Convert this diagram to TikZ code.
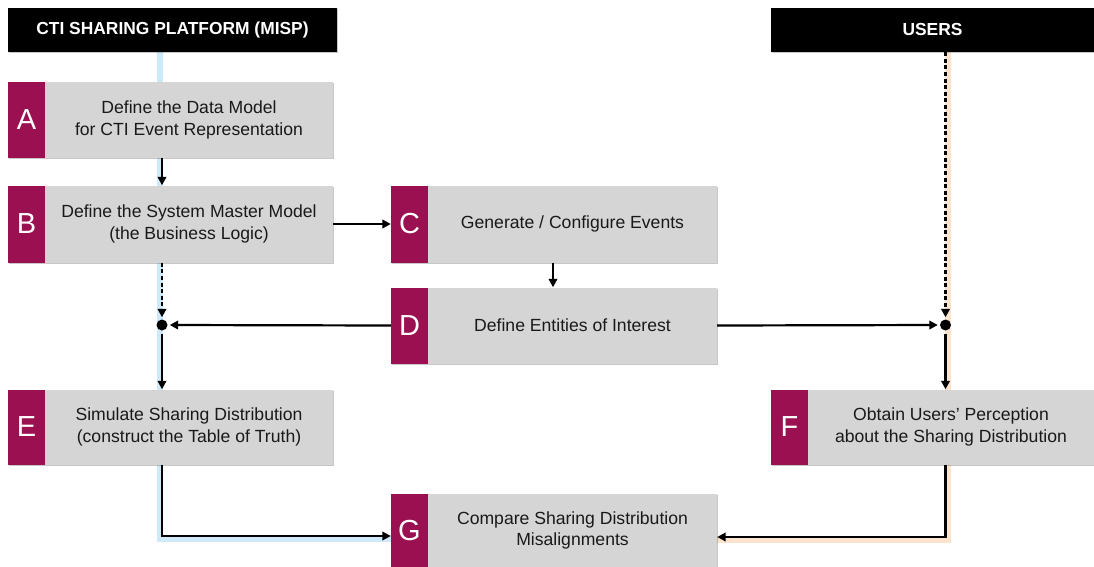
\documentclass[tikz,border=0pt]{standalone}
\usepackage{fontspec}
\setmainfont{Liberation Sans}
\usetikzlibrary{arrows.meta,shadows,calc}
\definecolor{mpurple}{HTML}{9A1050}
\definecolor{mgray}{HTML}{D5D5D5}
\definecolor{mblue}{HTML}{CDE9FA}
\definecolor{morange}{HTML}{FCE3CE}
\tikzset{
  shad/.style={drop shadow={shadow xshift=0.7pt,shadow yshift=-1pt,opacity=0.22,fill=black}},
  graybox/.style={rectangle,fill=mgray,shad,align=center,inner sep=2pt,
     font=\fontsize{17.6}{21.5}\selectfont,text=black!90},
  lettbox/.style={rectangle,fill=mpurple,shad,minimum width=37pt,inner sep=0pt,
     text=white,font=\fontsize{29}{29}\selectfont},
  header/.style={rectangle,fill=black,shad,text=white,minimum height=44pt,inner sep=0pt,
     font=\bfseries\fontsize{17.4}{20}\selectfont},
  conn/.style={draw=black,line width=2.2pt},
  arr/.style={conn,-{Triangle[length=8.5pt,width=8.5pt]}},
  dasharr/.style={arr,dash pattern=on 4pt off 2.6pt},
  jdot/.style={circle,fill=black,minimum size=11pt,inner sep=0pt},
}
\newcommand{\stepbox}[7]{%
  \node[lettbox,minimum height=#6] (#1l) at ({#3-#5/2-18.5},#4) {#2};
  \node[graybox,minimum width=#5,minimum height=#6] (#1) at (#3,#4) {#7};
}
\begin{document}
\begin{tikzpicture}[x=1pt,y=-1pt]
\useasboundingbox (0,0) rectangle (1094,567);
% bands
\fill[mblue] (156.5,52) rectangle (162.8,541.5);
\fill[mblue] (156.5,535) rectangle (391,541.5);
\fill[morange] (944.5,52) rectangle (951,542.5);
\fill[morange] (717,536) rectangle (951,542.5);
% headers
\node[header,minimum width=329pt] (H1) at (172.5,30) {CTI SHARING PLATFORM (MISP)};
\node[header,minimum width=323pt] (H2) at (932.5,30) {USERS};
% boxes
\stepbox{A}{A}{189}{120}{288}{76}{Define the Data Model\\for CTI Event Representation}
\stepbox{B}{B}{189}{224}{288}{77}{Define the System Master Model\\(the Business Logic)}
\stepbox{C}{C}{572.5}{224}{289}{77}{Generate / Configure Events}
\stepbox{D}{D}{572.5}{325.5}{289}{76}{Define Entities of Interest}
\stepbox{E}{E}{189}{427}{288}{75}{Simulate Sharing Distribution\\(construct the Table of Truth)}
\stepbox{F}{F}{951}{427}{286}{75}{Obtain Users’ Perception\\about the Sharing Distribution}
\stepbox{G}{G}{572.5}{530.5}{289}{74}{Compare Sharing Distribution\\Misalignments}
% helper coordinates
\coordinate (lx) at (162,0);
\coordinate (rx) at (945.5,0);
\coordinate (cx) at (553,0);
\node[jdot] (d1) at (162,325) {};
\node[jdot] (d2) at (945.5,325) {};
\coordinate (gin) at ($(Gl.west)+(0,5.5)$);
\coordinate (gout) at ($(G.east)+(0,6.5)$);
% connectors
\draw[arr] (A.south -| lx) -- (B.north -| lx);
\draw[dasharr,shorten >=2pt] (B.south -| lx) -- (d1.north);
\draw[arr] (B.east |- Bl.east) -- (Cl.west);
\draw[arr] (C.south -| cx) -- (D.north -| cx);
\draw[arr,shorten >=2pt] (Dl.west) -- (d1.east);
\draw[arr,shorten >=2pt] (D.east) -- (d2.west);
\draw[dasharr,shorten >=2pt] (H2.south -| rx) -- (d2.north);
\draw[arr,shorten <=3pt] (d1.south) -- (E.north -| lx);
\draw[arr,shorten <=3pt] (d2.south) -- (F.north -| rx);
\draw[arr] (E.south -| lx) |- (gin);
\draw[arr] (F.south -| rx) |- (gout);
\end{tikzpicture}
\end{document}
